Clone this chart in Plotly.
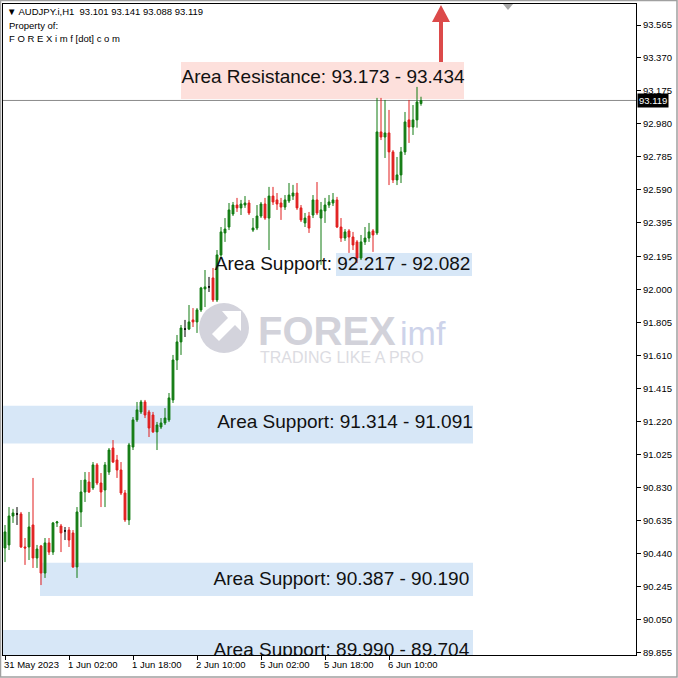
import plotly.graph_objects as go

# ---------------- data (AUDJPY.i, H1) ----------------
bar_index = list(range(105))
opens = [
    90.474, 90.492, 90.663, 90.675, 90.675, 90.480, 90.480, 90.610, 90.415, 90.486,
    90.326, 90.504, 90.450, 90.622, 90.604, 90.575, 90.580, 90.563, 90.362, 90.687,
    90.805, 90.864, 90.829, 90.965, 90.858, 90.817, 90.923, 91.065, 90.994, 90.935,
    90.799, 90.640, 91.071, 91.231, 91.278, 91.337, 91.278, 91.260, 91.160, 91.189,
    91.213, 91.231, 91.349, 91.585, 91.692, 91.768, 91.768, 91.822, 91.810, 91.881,
    92.005, 92.017, 92.070, 91.940, 92.206, 92.336, 92.371, 92.448, 92.501, 92.484,
    92.501, 92.513, 92.353, 92.365, 92.436, 92.507, 92.424, 92.554, 92.531, 92.513,
    92.489, 92.525, 92.554, 92.572, 92.484, 92.395, 92.436, 92.442, 92.531, 92.424,
    92.466, 92.501, 92.513, 92.531, 92.371, 92.306, 92.348, 92.312, 92.283, 92.188,
    92.283, 92.306, 92.348, 92.336, 92.933, 92.903, 92.927, 92.815, 92.649, 92.679,
    92.815, 93.004, 92.962, 93.004, 93.101]
highs = [
    90.610, 90.716, 90.705, 90.716, 90.687, 90.533, 90.687, 90.888, 90.492, 90.492,
    90.533, 90.533, 90.628, 90.634, 90.616, 90.598, 90.598, 90.580, 90.716, 90.876,
    90.923, 90.923, 90.982, 90.976, 90.917, 90.982, 91.065, 91.112, 91.024, 90.982,
    90.817, 91.095, 91.248, 91.337, 91.349, 91.349, 91.290, 91.278, 91.219, 91.242,
    91.301, 91.390, 91.615, 91.733, 91.792, 91.822, 91.910, 91.892, 91.892, 92.017,
    92.117, 92.076, 92.129, 92.235, 92.371, 92.424, 92.513, 92.519, 92.543, 92.531,
    92.554, 92.531, 92.424, 92.501, 92.519, 92.543, 92.608, 92.608, 92.572, 92.543,
    92.560, 92.631, 92.620, 92.631, 92.501, 92.454, 92.460, 92.560, 92.637, 92.519,
    92.543, 92.560, 92.572, 92.549, 92.424, 92.359, 92.359, 92.342, 92.294, 92.324,
    92.371, 92.395, 92.359, 93.134, 93.134, 93.122, 93.063, 92.826, 92.785, 92.844,
    93.051, 93.122, 93.092, 93.199, 93.141]
lows = [
    90.391, 90.462, 90.622, 90.610, 90.474, 90.374, 90.403, 90.356, 90.356, 90.255,
    90.297, 90.433, 90.433, 90.598, 90.450, 90.521, 90.480, 90.356, 90.297, 90.598,
    90.746, 90.799, 90.817, 90.846, 90.716, 90.716, 90.906, 90.976, 90.888, 90.787,
    90.628, 90.610, 91.053, 91.219, 91.266, 91.242, 91.130, 91.154, 91.053, 91.177,
    91.201, 91.219, 91.331, 91.526, 91.615, 91.721, 91.762, 91.780, 91.745, 91.869,
    91.898, 91.987, 91.928, 91.928, 92.188, 92.283, 92.353, 92.436, 92.460, 92.442,
    92.484, 92.442, 92.342, 92.353, 92.424, 92.413, 92.235, 92.501, 92.472, 92.413,
    92.472, 92.513, 92.531, 92.472, 92.401, 92.371, 92.336, 92.424, 92.442, 92.147,
    92.395, 92.484, 92.495, 92.365, 92.283, 92.289, 92.218, 92.235, 92.158, 92.176,
    92.265, 92.283, 92.224, 92.324, 92.885, 92.779, 92.619, 92.631, 92.619, 92.631,
    92.797, 92.868, 92.915, 92.958, 93.088]
closes = [
    90.569, 90.663, 90.681, 90.675, 90.480, 90.474, 90.598, 90.415, 90.468, 90.326,
    90.504, 90.450, 90.622, 90.628, 90.563, 90.575, 90.521, 90.362, 90.687, 90.805,
    90.876, 90.805, 90.965, 90.858, 90.805, 90.965, 91.053, 90.982, 90.935, 90.799,
    90.640, 91.083, 91.231, 91.290, 91.337, 91.260, 91.183, 91.160, 91.201, 91.213,
    91.242, 91.361, 91.585, 91.692, 91.774, 91.768, 91.810, 91.810, 91.881, 92.011,
    92.017, 92.017, 91.940, 92.206, 92.342, 92.359, 92.472, 92.501, 92.484, 92.507,
    92.513, 92.454, 92.365, 92.436, 92.507, 92.424, 92.554, 92.519, 92.507, 92.489,
    92.531, 92.560, 92.572, 92.484, 92.413, 92.424, 92.365, 92.531, 92.454, 92.472,
    92.501, 92.519, 92.531, 92.371, 92.306, 92.342, 92.312, 92.265, 92.188, 92.283,
    92.306, 92.342, 92.324, 92.933, 92.903, 92.927, 92.815, 92.649, 92.679, 92.815,
    92.992, 92.962, 93.004, 93.110, 93.119]

time_label_bars = [0, 16, 32, 48, 64, 80, 96]
time_labels = ["31 May 2023", "1 Jun 02:00", "1 Jun 18:00", "2 Jun 10:00",
               "5 Jun 02:00", "5 Jun 18:00", "6 Jun 10:00"]

price_ticks = [93.565, 93.370, 93.175, 92.980, 92.785, 92.590, 92.395, 92.195, 92.000, 91.805,
               91.610, 91.415, 91.220, 91.025, 90.830, 90.635, 90.440, 90.245, 90.050, 89.855]
last_price = 93.119
header_ohlc = ["93.101", "93.141", "93.088", "93.119"]

support_zones = [(92.217, 92.082), (91.314, 91.091), (90.387, 90.190), (89.990, 89.704)]
resistance_zone = (93.173, 93.434)

# ---------------- figure ----------------
W, H = 678, 678
ML, MR, MT, MB = 3, 42, 4, 23
PW, PH = W - ML - MR, H - MT - MB
FONT = "Liberation Sans"
GREEN = "#117a11"
RED = "#e11d1d"


def px(xp, yp):
    return (xp - ML) / PW, (H - MB - yp) / PH


def ppath(points):
    s = ""
    for k, (a, b) in enumerate(points):
        u, v = px(a, b)
        s += ("M" if k == 0 else "L") + f"{u:.5f},{v:.5f} "
    return s + "Z"


up = [i for i in bar_index if closes[i] > opens[i]]
dn = [i for i in bar_index if closes[i] < opens[i]]
dj = [i for i in bar_index if closes[i] == opens[i]]

fig = go.Figure()
for idx, col in ((up, GREEN), (dn, RED), (dj, "#000000")):
    fig.add_trace(go.Candlestick(
        x=idx,
        open=[opens[i] for i in idx], high=[highs[i] for i in idx],
        low=[lows[i] for i in idx], close=[closes[i] for i in idx],
        increasing=dict(line=dict(color=col, width=1), fillcolor=col),
        decreasing=dict(line=dict(color=col, width=1), fillcolor=col),
        whiskerwidth=0, hoverinfo="skip", showlegend=False))

shapes = []
# zones
zone_x = [(82.75, 116.75), (-0.6, 117), (8.75, 117), (-0.6, 117)]
for (a, b), (x0, x1) in zip(support_zones, zone_x):
    shapes.append(dict(type="rect", xref="x", yref="y", x0=x0, x1=x1, y0=a, y1=b,
                       fillcolor="#d7e7f7", line=dict(width=0), layer="below"))
# resistance label box
u0, v0 = px(181, 99)
u1, v1 = px(464, 62)
shapes.append(dict(type="rect", xref="paper", yref="paper", x0=u0, x1=u1, y0=v0, y1=v1,
                   fillcolor="#fde0dc", line=dict(width=0), layer="below"))
# bid line
shapes.append(dict(type="line", xref="paper", yref="y", x0=0, x1=1, y0=last_price, y1=last_price,
                   line=dict(color="#8a8a8a", width=1), layer="below"))
# watermark logo
cu0, cv0 = px(199, 353)
cu1, cv1 = px(249, 303)
shapes.append(dict(type="circle", xref="paper", yref="paper", x0=cu0, x1=cu1, y0=cv0, y1=cv1,
                   fillcolor="#d3d3dc", line=dict(width=0), layer="below"))
shapes.append(dict(type="path", xref="paper", yref="paper", layer="below",
                   path=ppath([(241, 311), (241, 331), (235, 325), (219, 341), (212, 334), (228, 318), (222, 311)]),
                   fillcolor="#ffffff", line=dict(width=0)))
# red arrow
shapes.append(dict(type="path", xref="paper", yref="paper",
                   path=ppath([(439, 62), (439, 22), (432, 22), (441, 5), (450, 22), (443, 22), (443, 62)]),
                   fillcolor="#dc4a4a", line=dict(width=0)))
# chart-shift marker
shapes.append(dict(type="path", xref="paper", yref="paper",
                   path=ppath([(503, 4), (513, 4), (508, 10)]),
                   fillcolor="#a8a8a8", line=dict(width=0)))
# outer window frame
fu0, fv0 = px(0.5, 677)
fu1, fv1 = px(677, 0.5)
shapes.append(dict(type="rect", xref="paper", yref="paper", x0=fu0, x1=fu1, y0=fv0, y1=fv1,
                   line=dict(color="#a0a0a0", width=1.5)))

# zone labels (clipped to plot area)
lab_x = [84.4, 85.0, 84.1, 84.1, 79.5]
lab_y = [92.147, 91.213, 90.285, 89.866, 93.252]
lab_t = [f"Area Support: {a:.3f} - {b:.3f}" for a, b in support_zones] + \
        [f"Area Resistance: {resistance_zone[0]:.3f} - {resistance_zone[1]:.3f}"]
fig.add_trace(go.Scatter(x=lab_x, y=lab_y, text=lab_t, mode="text", textposition="middle center",
                         textfont=dict(family=FONT, size=19, color="#111111"),
                         cliponaxis=True, hoverinfo="skip", showlegend=False))

ann = []
# header
hx, hy = px(6, 5)
ann.append(dict(xref="paper", yref="paper", x=hx, y=hy, xanchor="left", yanchor="top", showarrow=False,
                text="\u25bc AUDJPY.i,H1\u00a0\u00a0" + " ".join(header_ohlc),
                font=dict(family=FONT, size=9.5, color="#000"), borderpad=0))
hx, hy = px(8, 19)
ann.append(dict(xref="paper", yref="paper", x=hx, y=hy, xanchor="left", yanchor="top", showarrow=False,
                text="Property of:", font=dict(family=FONT, size=9.5, color="#000"), borderpad=0))
hx, hy = px(8, 32)
ann.append(dict(xref="paper", yref="paper", x=hx, y=hy, xanchor="left", yanchor="top", showarrow=False,
                text="F O R E X i m f [dot] c o m", font=dict(family=FONT, size=9.5, color="#000"), borderpad=0))
# time labels
for b, t in zip(time_label_bars, time_labels):
    ann.append(dict(xref="x", yref="paper", x=b, y=0, xanchor="left", yanchor="top", yshift=-3, xshift=-2,
                    showarrow=False, text=t, font=dict(family=FONT, size=9.5, color="#000"), borderpad=0))
# current price tag
ann.append(dict(xref="paper", yref="y", x=1, y=last_price, xanchor="left", yanchor="middle", xshift=1,
                showarrow=False, text=f"{last_price:.3f}", bgcolor="#000000",
                font=dict(family=FONT, size=9.5, color="#ffffff"), borderpad=1))
# watermark text
wx, wy = px(256, 331)
ann.append(dict(xref="paper", yref="paper", x=wx, y=wy, xanchor="left", yanchor="middle", showarrow=False,
                text="<b>FOREX</b>", font=dict(family=FONT, size=40, color="#d2d2da")))
wx, wy = px(398, 333)
ann.append(dict(xref="paper", yref="paper", x=wx, y=wy, xanchor="left", yanchor="middle", showarrow=False,
                text="imf", font=dict(family=FONT, size=34, color="#cdd3ea")))
wx, wy = px(258, 357)
ann.append(dict(xref="paper", yref="paper", x=wx, y=wy, xanchor="left", yanchor="middle", showarrow=False,
                text="TRADING LIKE A PRO", font=dict(family=FONT, size=16, color="#dcdce2")))

y_top = 93.6891
y_bot = y_top - PH / 169.2

fig.update_layout(
    width=W, height=H, margin=dict(l=ML, r=MR, t=MT, b=MB, pad=0, autoexpand=False),
    paper_bgcolor="#ffffff", plot_bgcolor="#ffffff",
    shapes=shapes, annotations=ann, boxgap=0.35,
    xaxis=dict(range=[-0.5, -0.5 + PW / 4.0], showgrid=False, zeroline=False, automargin=False,
               rangeslider=dict(visible=False), tickmode="array", tickvals=time_label_bars,
               showticklabels=False, ticks="outside", ticklen=4, tickcolor="#000",
               showline=True, linecolor="#000", linewidth=1, mirror=True, fixedrange=True),
    yaxis=dict(range=[y_bot, y_top], side="right", showgrid=False, zeroline=False, automargin=False,
               tickmode="array", tickvals=price_ticks, ticktext=[f"{v:.3f}" for v in price_ticks],
               ticks="outside", ticklen=4, tickcolor="#000",
               tickfont=dict(family=FONT, size=9.5, color="#000"),
               showline=True, linecolor="#000", linewidth=1, mirror=True, fixedrange=True),
    showlegend=False,
)

fig.write_html("out.html", config={"displayModeBar": False},
               post_script="document.body.style.margin='0px';document.body.style.overflow='hidden';")
